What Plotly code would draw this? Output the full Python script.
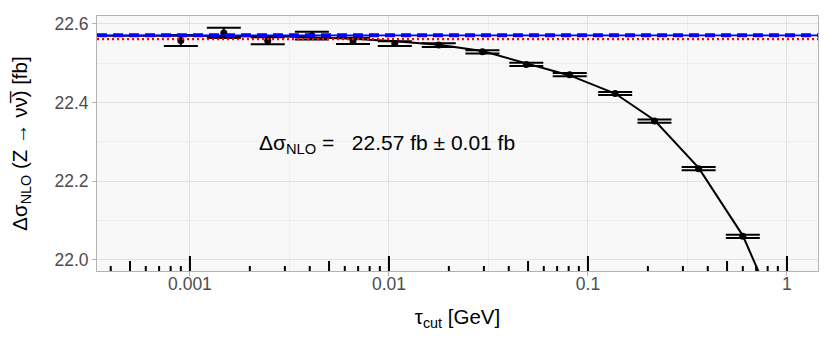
import numpy as np
import plotly.graph_objects as go

# measured points (tau_cut in GeV, delta sigma in fb, stat. error)
tau = [0.0009, 0.00148, 0.00246, 0.0041, 0.0066, 0.0107, 0.0178, 0.0295, 0.049, 0.081, 0.137, 0.216, 0.36, 0.6]
dsig = [22.558, 22.577, 22.557, 22.570, 22.557, 22.550, 22.546, 22.529, 22.497, 22.471, 22.423, 22.353, 22.232, 22.060]
err = [0.014, 0.013, 0.009, 0.010, 0.008, 0.006, 0.005, 0.004, 0.004, 0.004, 0.004, 0.004, 0.004, 0.004]

# fitted curve
fit_tau = [0.00034, 0.001, 0.003, 0.0066, 0.0107, 0.0178, 0.0295, 0.049, 0.081, 0.137, 0.216, 0.36, 0.6, 0.75]
fit_sig = [22.570, 22.570, 22.568, 22.562, 22.556, 22.547, 22.531, 22.499, 22.469, 22.423, 22.355, 22.234, 22.062, 21.95]

# extrapolated value and reference
extrap = 22.571
ref = 22.561

# log tick decades and multipliers
decades = [1e-4, 1e-3, 1e-2, 1e-1, 1]
mults = [1, 2, 3, 4, 5, 6, 7, 8, 9]

fig = go.Figure()

fig.add_trace(go.Scatter(x=fit_tau, y=fit_sig, mode="lines",
                         line=dict(color="black", width=2), showlegend=False))
fig.add_trace(go.Scatter(x=tau, y=dsig, mode="markers",
                         marker=dict(color="black", size=7),
                         error_y=dict(type="data", array=err, color="black", thickness=2, width=17),
                         showlegend=False))

shapes = []
shapes.append(dict(type="line", xref="paper", x0=0, x1=1, yref="y", y0=ref, y1=ref,
                   line=dict(color="red", width=2.2, dash="2px,3px"), layer="above"))
shapes.append(dict(type="line", xref="paper", x0=0, x1=1, yref="y", y0=extrap, y1=extrap,
                   line=dict(color="blue", width=1.8), layer="above"))
shapes.append(dict(type="line", xref="paper", x0=0, x1=1, yref="y", y0=extrap, y1=extrap,
                   line=dict(color="blue", width=4, dash="10px,6px"), layer="above"))

# annotation_logticks style marks at the bottom
for d in decades:
    for m in mults:
        v = d * m
        if v < 0.00035 or v > 1.4:
            continue
        ln = 15 if m == 1 else (10 if m == 5 else 5)
        shapes.append(dict(type="line", xref="x", x0=v, x1=v,
                           yref="paper", ysizemode="pixel", yanchor=0, y0=0, y1=ln,
                           line=dict(color="black", width=2)))

# page body adds 8px on the left/top, so the figure is 8px smaller
fig.update_layout(
    width=822, height=338,
    margin=dict(l=89, r=12, t=6, b=75),
    paper_bgcolor="white", plot_bgcolor="#f8f8f8",
    font=dict(family="Liberation Sans, Arial, sans-serif", color="black"),
    shapes=shapes,
    annotations=[dict(xref="paper", x=0.222, yref="y", y=22.295, xanchor="left", yanchor="middle",
                      text="\u0394\u03c3<sub>NLO</sub> =\u00a0\u00a0 22.57 fb \u00b1 0.01 fb",
                      showarrow=False, font=dict(size=21, color="black"))],
    xaxis=dict(type="log", range=[-3.467, 0.156],
               tickvals=[0.001, 0.01, 0.1, 1], ticktext=["0.001", "0.01", "0.1", "1"],
               ticks="outside", ticklen=4, tickcolor="#b3b3b3", ticklabelstandoff=-7,
               tickfont=dict(size=17.5, color="#4d4d4d"),
               showgrid=True, gridcolor="#e2e2e2", gridwidth=1,
               minor=dict(tickvals=[10**-3.5, 10**-2.5, 10**-1.5, 10**-0.5], showgrid=True,
                          gridcolor="#eeeeee", gridwidth=0.8, ticks=""),
               showline=True, linecolor="#b3b3b3", linewidth=1, mirror=True, zeroline=False,
               title=dict(text="\u03c4<sub>cut</sub> [GeV]", font=dict(size=20.5), standoff=16)),
    yaxis=dict(range=[21.972, 22.620], tickvals=[22.0, 22.2, 22.4, 22.6],
               ticktext=["22.0", "22.2", "22.4", "22.6"],
               ticks="outside", ticklen=4, tickcolor="#b3b3b3",
               tickfont=dict(size=17.5, color="#4d4d4d"),
               showgrid=True, gridcolor="#e2e2e2", gridwidth=1,
               minor=dict(tickvals=[22.1, 22.3, 22.5], showgrid=True,
                          gridcolor="#eeeeee", gridwidth=0.8, ticks=""),
               showline=True, linecolor="#b3b3b3", linewidth=1, mirror=True, zeroline=False,
               title=dict(text="\u0394\u03c3<sub>NLO</sub> (Z \u2192 \u03bd\u03bd\u0305) [fb]",
                          font=dict(size=20.5), standoff=21)),
)

fig.write_html("out.html")
